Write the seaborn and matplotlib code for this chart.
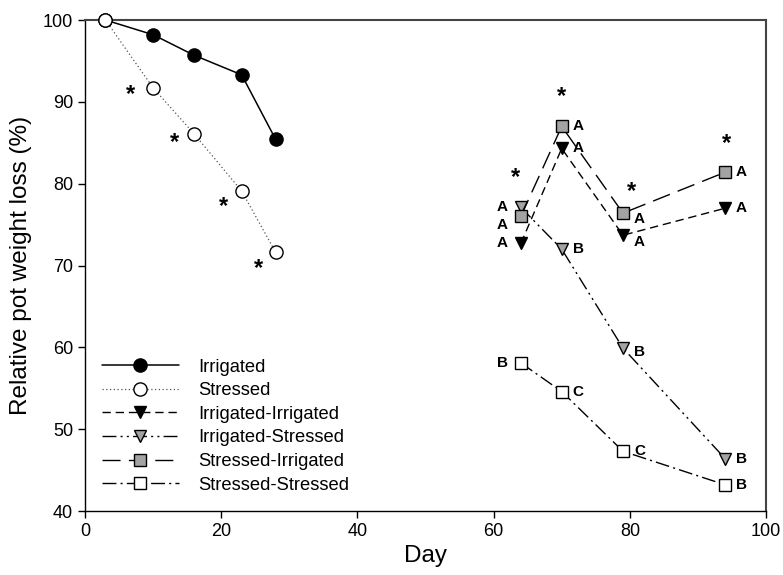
"""
Relative pot weight loss over time for the watering treatments
"""
import matplotlib
matplotlib.use("Agg")
import matplotlib.pyplot as plt
import seaborn as sns

# first period: irrigated vs stressed
days_early = [3, 10, 16, 23, 28]
irrigated = [100.0, 98.2, 95.7, 93.3, 85.4]
stressed = [100.0, 91.7, 86.1, 79.1, 71.6]

# second period: after swapping the treatments
days_late = [64, 70, 79, 94]
irr_irr = [72.7, 84.3, 73.7, 77.0]
irr_str = [77.1, 72.0, 59.9, 46.4]
str_irr = [76.0, 87.0, 76.4, 81.4]
str_str = [58.1, 54.6, 47.3, 43.2]

# significance letters, same order as days_late
let_irr_irr = ["A", "A", "A", "A"]
let_irr_str = ["A", "B", "B", "B"]
let_str_irr = ["A", "A", "A", "A"]
let_str_str = ["B", "C", "C", "B"]

# asterisks (significant difference between treatments at that date)
star_days = [6.7, 13.1, 20.4, 25.4, 63.2, 70.0, 80.3, 94.2]
star_vals = [90.9, 85.0, 77.2, 69.6, 80.8, 90.7, 79.0, 84.9]

sns.set_style("ticks")
plt.rcParams["font.family"] = ["Liberation Sans", "DejaVu Sans"]
plt.rcParams["text.color"] = "black"
plt.rcParams["axes.labelcolor"] = "black"
plt.rcParams["xtick.color"] = "black"
plt.rcParams["ytick.color"] = "black"

fig = plt.figure(figsize=(7.83, 5.75), dpi=100)
ax = fig.add_axes([0.1086, 0.1113, 0.8697, 0.8539])

GREY = "#a3a3a3"
series = [
    ("Irrigated", days_early, irrigated, "-", "black", 1.1, "o", "black", 9.5),
    ("Stressed", days_early, stressed, (0, (1, 2)), "#555555", 0.9, "o", "white", 9.5),
    ("Irrigated-Irrigated", days_late, irr_irr, (0, (6, 3.5)), "black", 1.0, "v", "black", 9),
    ("Irrigated-Stressed", days_late, irr_str, (0, (10, 3, 1.5, 3, 1.5, 3)), "black", 1.0, "v", GREY, 9),
    ("Stressed-Irrigated", days_late, str_irr, (0, (13, 6)), "black", 1.0, "s", GREY, 8),
    ("Stressed-Stressed", days_late, str_str, (0, (10, 3, 1.5, 3)), "black", 1.0, "s", "white", 8),
]

for name, x, y, ls, lc, lw, mk, mfc, ms in series:
    sns.lineplot(x=x, y=y, ax=ax, label=name, color=lc, linestyle=ls, linewidth=lw,
                 marker=mk, markersize=ms, markerfacecolor=mfc,
                 markeredgecolor="black", markeredgewidth=1.0,
                 clip_on=False, zorder=3)

# letters next to the late-period points
letter_sets = [(irr_irr, let_irr_irr), (irr_str, let_irr_str),
               (str_irr, let_str_irr), (str_str, let_str_str)]
nudge = {(2, 0): -1.1, (0, 2): -0.8, (1, 2): -0.5, (2, 2): -0.7}
for k, (vals, lets) in enumerate(letter_sets):
    for i, (d, v, t) in enumerate(zip(days_late, vals, lets)):
        dy = nudge.get((k, i), 0.0)
        if i == 0:
            ax.text(d - 1.9, v + dy, t, ha="right", va="center",
                    fontsize=11, fontweight="bold")
        else:
            ax.text(d + 1.6, v + dy, t, ha="left", va="center",
                    fontsize=11, fontweight="bold")

for d, v in zip(star_days, star_vals):
    ax.text(d, v, "*", ha="center", va="center", fontsize=17, fontweight="bold")

ax.set_xlim(0, 100)
ax.set_ylim(40, 100)
ax.set_xticks(range(0, 101, 20))
ax.set_yticks(range(40, 101, 10))
ax.tick_params(direction="out", length=5, width=1, labelsize=13, color="black")
for sp in ax.spines.values():
    sp.set_color("black")
    sp.set_linewidth(1.0)
ax.spines["top"].set_color("#444444")
ax.spines["right"].set_color("#444444")
ax.spines["top"].set_linewidth(1.5)
ax.spines["right"].set_linewidth(1.5)

ax.set_xlabel("Day", fontsize=17.5, labelpad=4)
ax.set_ylabel("Relative pot weight loss (%)", fontsize=17.5, labelpad=8)

ax.legend(loc="lower left", bbox_to_anchor=(0.0, 0.0), frameon=False, fontsize=13.2,
          handlelength=4.15, labelspacing=0.36, handletextpad=1.1, numpoints=1,
          borderaxespad=0.55)

fig.savefig("out.png", dpi=100)
